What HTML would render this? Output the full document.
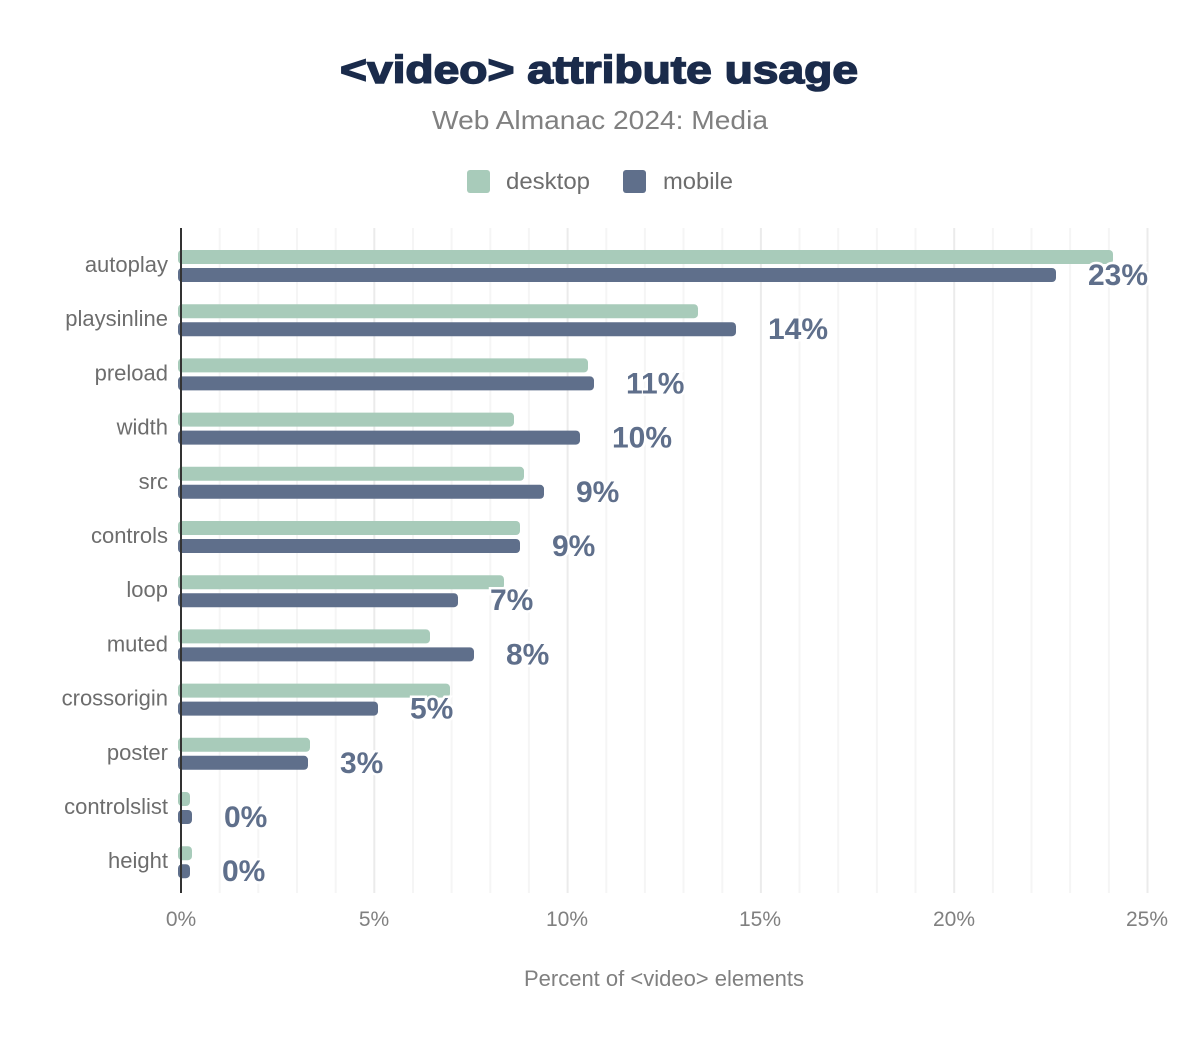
<!DOCTYPE html>
<html><head><meta charset="utf-8"><style>
body{margin:0;background:#fff;}
svg text{font-family:"Liberation Sans",Arial,sans-serif;}
</style></head><body>
<svg width="1200" height="1044" xmlns="http://www.w3.org/2000/svg">
<rect width="1200" height="1044" fill="#fff"/>
<text x="340" y="83" textLength="518" lengthAdjust="spacingAndGlyphs" font-size="39" font-weight="bold" fill="#1a2b4b" stroke="#1a2b4b" stroke-width="1.5">&lt;video&gt; attribute usage</text>
<text x="432" y="129" textLength="336" lengthAdjust="spacingAndGlyphs" font-size="26" fill="#808080">Web Almanac 2024: Media</text>
<rect x="467" y="170" width="23" height="23" rx="3" fill="#a8cbba"/>
<text x="506" y="189" textLength="84" lengthAdjust="spacingAndGlyphs" font-size="23" fill="#6d6d6d">desktop</text>
<rect x="623" y="170" width="23" height="23" rx="3" fill="#5f6f8b"/>
<text x="663" y="189" textLength="70" lengthAdjust="spacingAndGlyphs" font-size="23" fill="#6d6d6d">mobile</text>
<g id="grid"></g>
<g id="bars"></g>
<line x1="181" y1="228" x2="181" y2="893" stroke="#333" stroke-width="2"/>
<g font-size="21" fill="#808080" text-anchor="middle">
<text x="181" y="926">0%</text><text x="374" y="926">5%</text><text x="567" y="926">10%</text>
<text x="760" y="926">15%</text><text x="954" y="926">20%</text><text x="1147" y="926">25%</text>
</g>
<text x="664" y="986" text-anchor="middle" font-size="22" fill="#808080">Percent of &lt;video&gt; elements</text>
<script>
var ns="http://www.w3.org/2000/svg";
var g=document.getElementById('grid');
for(var i=1;i<=25;i++){var x=181+i*38.66;var l=document.createElementNS(ns,'line');
l.setAttribute('x1',x);l.setAttribute('x2',x);l.setAttribute('y1',228);l.setAttribute('y2',893);
l.setAttribute('stroke',i%5==0?'#ebebeb':'#f5f5f5');l.setAttribute('stroke-width',2);g.appendChild(l);}
var d=[["autoplay",1113,1056,"23%"],["playsinline",698,736,"14%"],["preload",588,594,"11%"],["width",514,580,"10%"],["src",524,544,"9%"],["controls",520,520,"9%"],["loop",504,458,"7%"],["muted",430,474,"8%"],["crossorigin",450,378,"5%"],["poster",310,308,"3%"],["controlslist",190,192,"0%"],["height",192,190,"0%"]];
var b=document.getElementById('bars');
d.forEach(function(r,k){var y=250+k*54.2;
function bar(x2,yy,c){var e=document.createElementNS(ns,'rect');e.setAttribute('x',178);e.setAttribute('y',yy);e.setAttribute('width',x2-178);e.setAttribute('height',14);e.setAttribute('rx',4);e.setAttribute('fill',c);b.appendChild(e);}
bar(r[1],y,'#a8cbba');bar(r[2],y+18,'#5f6f8b');
var t=document.createElementNS(ns,'text');t.setAttribute('x',168);t.setAttribute('y',y+22);t.setAttribute('text-anchor','end');t.setAttribute('font-size',22);t.setAttribute('fill','#6d6d6d');t.textContent=r[0];b.appendChild(t);
var p=document.createElementNS(ns,'text');p.setAttribute('x',r[2]+32);p.setAttribute('y',y+35);p.setAttribute('font-size',30);p.setAttribute('font-weight','bold');p.setAttribute('fill','#5f6f8b');p.setAttribute('stroke','#fff');p.setAttribute('stroke-width',5);p.setAttribute('paint-order','stroke');p.textContent=r[3];b.appendChild(p);
});
</script>
</svg>
</body></html>
